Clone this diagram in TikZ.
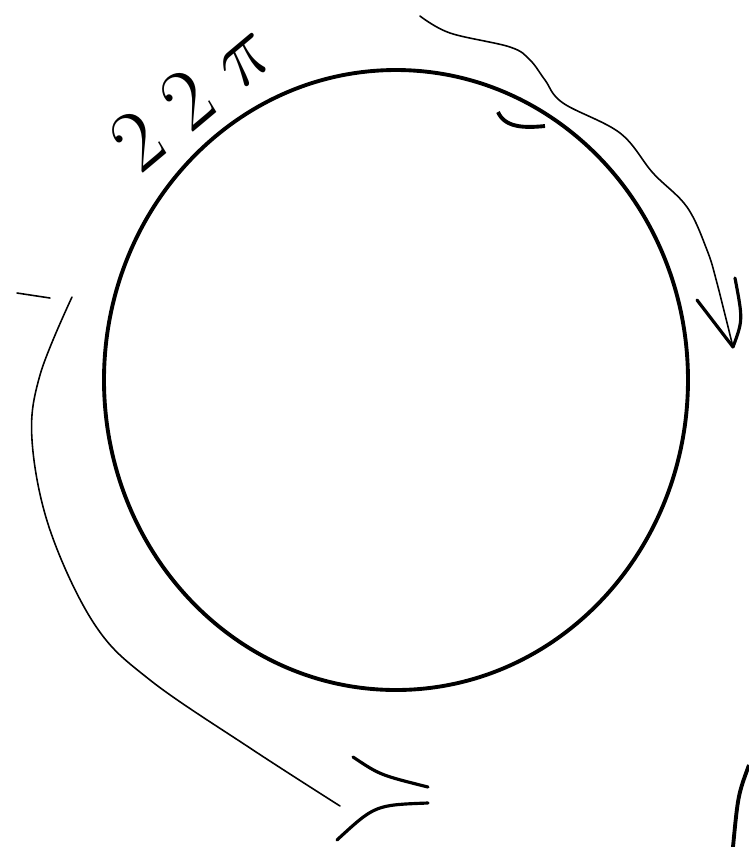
\documentclass[tikz,border=0pt]{standalone}
\usepackage{tikz}
\usetikzlibrary{arrows.meta, calc, positioning}

\begin{document}
\begin{tikzpicture}[
  x=0.01cm, y=-0.01cm,
  ring/.style={draw, line width=1.1pt, line join=round},
  flow/.style={draw, line width=0.45pt, line cap=round},
  tip/.style={draw, line width=0.9pt, line cap=round},
  lbl/.style={font=\fontsize{24}{24}\selectfont, inner sep=0pt},
]
  \useasboundingbox (0,0) rectangle (749,847);

  %% ── the circle ──
  \coordinate (mid) at (396,380);
  \draw[ring] (mid) ellipse [x radius=292, y radius=310];
  %% start of the stroke (small hook)
  \draw[ring] (498,112) .. controls (505,128) and (525,128) .. (545,126);

  %% ── label ──
  \node[lbl, rotate=40] (turn) at (192,96) {$2\;2\;\pi$};

  %% ══════════════════════════════════════════════════════
  %% upper right: clockwise sweep
  \coordinate (r_start) at (420,16);
  \coordinate (r_end)   at (733,347);
  \draw[flow] plot[smooth, tension=0.6] coordinates {
    (r_start) (450,33) (510,47) (530,60) (545,80) (563,103) (620,133)
    (653,173) (687,207) (707,250) (717,283) (r_end)};
  \draw[tip] (697,300) -- (r_end);
  \draw[tip] (735,278) .. controls (743,320) .. (r_end);

  %% left / bottom: sweep down and round
  \coordinate (l_start) at (72,297);
  \coordinate (l_end)   at (340,806);
  \draw[flow] plot[smooth, tension=0.6] coordinates {
    (l_start) (40,375) (32,440) (50,530) (95,625) (150,680)
    (250,748) (l_end)};
  \coordinate (l_tip) at (428,795);
  \draw[tip] (353,757) .. controls (380,775) .. ($(l_tip)+(0,-8)$);
  \draw[tip] (337,840) .. controls (375,805) .. ($(l_tip)+(0,8)$);

  %% stray marks
  \draw[flow] (17,293) -- (50,298);
  \draw[ring] (749,765) .. controls (738,795) .. (733,847);
\end{tikzpicture}
\end{document}
